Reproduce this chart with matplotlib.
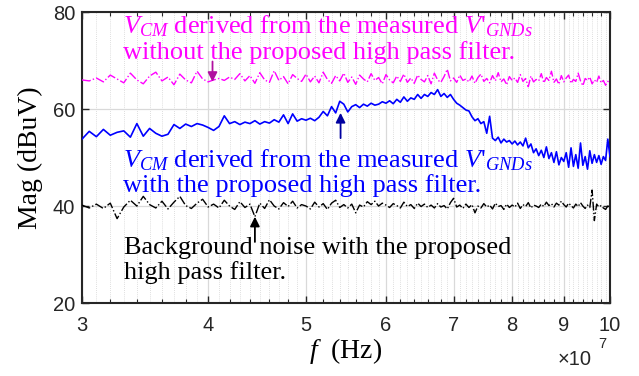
import numpy as np
import matplotlib
matplotlib.use("Agg")
import matplotlib.pyplot as plt
from matplotlib.ticker import FixedLocator, NullFormatter

plt.rcParams["font.family"] = ["Liberation Serif", "DejaVu Serif"]
plt.rcParams["mathtext.fontset"] = "custom"
plt.rcParams["mathtext.rm"] = "Liberation Serif"
plt.rcParams["mathtext.it"] = "Liberation Serif:italic"
plt.rcParams["mathtext.bf"] = "Liberation Serif:bold"

# Spectrum samples, 0.5 MHz apart from 30 MHz to 100 MHz
f_start, f_stop = 3e7, 1e8

vcm_no_filter = [
    66.0, 65.8, 66.4, 65.6, 67.0, 66.2, 65.4, 67.4, 66.0, 65.2,
    66.8, 67.6, 65.8, 66.6, 65.0, 67.2, 66.0, 65.4, 67.8, 66.2,
    65.6, 66.0, 66.3, 65.9, 66.6, 66.1, 67.3, 65.8, 66.9, 65.3,
    67.5, 66.0, 65.5, 67.9, 65.9, 66.7, 65.2, 67.1, 66.3, 65.7,
    67.2, 65.6, 66.8, 65.4, 67.6, 66.1, 65.3, 66.9, 65.8, 67.4,
    65.5, 66.6, 65.1, 67.0, 66.2, 65.6, 67.3, 65.9, 66.5, 65.2,
    67.1, 66.0, 65.4, 66.8, 65.7, 67.2, 65.5, 66.4, 65.3, 67.0,
    66.1, 65.6, 66.9, 65.2, 67.4, 66.0, 65.5, 66.7, 68.2, 65.8,
    66.4, 65.5, 67.0, 65.9, 66.2, 65.6, 66.8, 65.3, 66.5, 67.2,
    65.7, 66.3, 65.4, 66.9, 65.8, 67.5, 65.6, 66.2, 65.0, 66.7,
    65.9, 66.4, 65.5, 67.1, 65.7, 66.3, 64.6, 66.8, 65.6, 66.1,
    65.8, 67.3, 65.4, 66.5, 65.9, 67.8, 65.5, 66.2, 65.1, 66.9,
    65.6, 66.4, 67.0, 65.3, 66.1, 65.7, 67.4, 65.8, 64.8, 66.3,
    65.9, 66.6, 65.2, 66.0, 65.5, 66.8, 65.4, 65.9, 64.9, 65.7,
    65.6,
]

vcm_with_filter = [
    53.8, 55.4, 54.3, 55.8, 54.6, 55.2, 55.5, 54.2, 57.0, 54.4,
    56.0, 55.0, 54.4, 54.8, 56.8, 56.0, 56.9, 56.4, 57.0, 56.7,
    56.2, 55.6, 56.4, 58.6, 57.0, 57.4, 56.8, 57.3, 57.0, 57.6,
    56.9, 57.4, 57.1, 57.8, 57.3, 58.8, 57.0, 59.0, 57.5, 58.0,
    57.7, 58.1, 57.6, 58.3, 59.5, 58.6, 60.5, 59.2, 61.6, 61.0,
    59.4, 60.5, 60.9, 60.3, 61.0, 60.6, 61.2, 60.8, 61.0, 61.5,
    61.2, 61.7, 61.1, 62.0, 61.4, 62.5, 61.6, 62.3, 62.0, 63.0,
    62.2, 63.0, 62.6, 63.4, 63.0, 64.0, 62.6, 63.2, 62.4, 63.0,
    62.0, 61.2, 60.8, 60.3, 59.8, 59.6, 58.4, 57.6, 58.0, 57.0,
    57.4, 55.0, 58.5, 54.0, 53.5, 54.2, 53.0, 53.8, 53.2, 53.5,
    52.8, 53.4, 52.6, 53.2, 52.4, 54.0, 52.0, 52.8, 51.0, 51.8,
    50.4, 51.5, 50.0, 52.2, 49.8, 51.0, 49.0, 51.2, 48.5, 50.0,
    49.2, 51.0, 48.0, 52.0, 48.2, 50.6, 47.8, 53.0, 48.4, 50.2,
    47.6, 51.4, 48.8, 50.6, 49.0, 50.4, 48.6, 50.2, 49.4, 53.8,
    50.2,
]

background = [
    40.2, 39.6, 40.4, 39.5, 40.6, 37.4, 39.8, 41.2, 40.0, 42.0,
    40.3, 39.6, 41.0, 39.4, 40.8, 42.0, 40.1, 39.5, 40.6, 41.4,
    39.8, 40.4, 39.6, 41.2, 40.0, 39.3, 40.9, 39.7, 40.4, 37.8,
    40.6, 39.5, 41.3, 40.0, 39.4, 40.7, 39.9, 41.0, 39.6, 40.3,
    40.0, 39.4, 40.8, 39.8, 40.5, 39.3, 40.6, 41.2, 39.7, 40.3,
    39.6, 40.4, 38.6, 40.2, 39.8, 40.9, 40.3, 41.0, 40.0, 40.6,
    40.2, 39.7, 40.5, 40.1, 39.6, 40.8, 39.9, 40.3, 39.5, 40.6,
    39.9, 40.4, 39.7, 40.2, 39.6, 40.5, 39.8, 40.1, 39.4, 40.7,
    41.6, 39.8, 40.2, 39.5, 40.4, 39.7, 40.3, 38.6, 40.0, 39.6,
    40.5, 39.8, 40.2, 39.4, 40.6, 39.9, 40.1, 39.3, 40.4, 39.7,
    40.2, 39.8, 40.6, 39.5, 40.3, 39.9, 40.7, 39.6, 40.2, 40.0,
    39.7, 40.4, 39.9, 40.8, 40.1, 40.5, 39.8, 40.6, 40.2, 41.0,
    40.3, 39.8, 40.6, 40.1, 39.6, 40.4, 39.9, 40.7, 40.0, 39.5,
    40.2, 39.7, 43.3, 37.0, 40.4, 39.8, 40.1, 39.6, 39.3, 40.0,
    39.8,
]

x_ticks = [3e7, 4e7, 5e7, 6e7, 7e7, 8e7, 9e7, 1e8]
x_tick_labels = ["3", "4", "5", "6", "7", "8", "9", "10"]
y_ticks = [20, 40, 60, 80]

def freq_axis(values):
    return np.linspace(f_start, f_stop, len(values))

fig = plt.figure(figsize=(6.39, 3.76), dpi=100)
ax = fig.add_axes([0.1283, 0.194, 0.8263, 0.774])

ax.plot(freq_axis(vcm_no_filter), vcm_no_filter, color="#ff00ff",
        ls="-.", lw=1.0, zorder=3)
ax.plot(freq_axis(vcm_with_filter), vcm_with_filter, color="#0000ff",
        ls="-", lw=1.2, zorder=3)
ax.plot(freq_axis(background), background, color="black",
        ls="-.", lw=1.0, zorder=3)

ax.set_xscale("log")
ax.set_xlim(f_start, f_stop)
ax.set_ylim(20, 80)
ax.set_xticks(x_ticks, x_tick_labels)
ax.set_yticks(y_ticks)
ax.xaxis.set_minor_locator(FixedLocator(np.arange(3.2e7, 1e8, 2e6)))
ax.xaxis.set_minor_formatter(NullFormatter())

# light grid: solid at the labelled ticks, dotted at every 1 MHz step
ax.grid(True, which="major", color="#d9d9d9", lw=0.9, ls="-", zorder=0)
for fx in np.arange(3.1e7, 1e8, 1e6):
    ax.axvline(fx, color="#d4d4d4", lw=0.6, ls=(0, (1, 1.5)), zorder=0)

for side in ["left", "right", "top", "bottom"]:
    ax.spines[side].set_color("#262626")
    ax.spines[side].set_linewidth(1.5)
ax.tick_params(which="both", direction="in", top=True, right=True,
               color="#262626", labelfontfamily="Liberation Sans",
               labelsize=14.5, labelcolor="#262626")
ax.tick_params(which="major", length=5, width=1.0)
ax.tick_params(which="minor", length=3, width=0.8)
ax.tick_params(axis="x", pad=9)
ax.tick_params(axis="y", pad=5)

ax.set_xlabel(r"$f$  (Hz)", fontsize=20, labelpad=1)
ax.set_ylabel("Mag (dBuV)", fontsize=20, labelpad=7)

fig.text(0.872, 0.018, "\u00d710", fontsize=14.5, family="Liberation Sans",
         color="#262626", ha="left", va="bottom")
fig.text(0.937, 0.066, "7", fontsize=10.5, family="Liberation Sans",
         color="#262626", ha="left", va="bottom")

txt_kw = dict(fontsize=19, ha="left", va="center", linespacing=1.1)
gnds = "$V$'$_{GNDs}$"
ax.text(0.077, 0.909,
        "$V_{CM}$ derived from the measured " + gnds + "\n"
        "without the proposed high pass filter.",
        transform=ax.transAxes, color="#ff00ff", **txt_kw)
ax.text(0.077, 0.45,
        "$V_{CM}$ derived from the measured " + gnds + "\n"
        "with the proposed high pass filter.",
        transform=ax.transAxes, color="#0000ff", **txt_kw)
ax.text(0.079, 0.145,
        "Background noise with the proposed\nhigh pass filter.",
        transform=ax.transAxes, color="black", **txt_kw)

arrow_kw = dict(arrowstyle="-|>", mutation_scale=14, lw=1.3,
                shrinkA=0, shrinkB=0)
ax.annotate("", xy=(4.04e7, 65.6), xytext=(4.04e7, 69.8),
            arrowprops=dict(color="#b0109f", **arrow_kw))
ax.annotate("", xy=(5.41e7, 59.2), xytext=(5.41e7, 54.0),
            arrowprops=dict(color="#0000a0", **arrow_kw))
ax.annotate("", xy=(4.45e7, 37.8), xytext=(4.45e7, 32.6),
            arrowprops=dict(color="black", **arrow_kw))

fig.savefig("out.png", dpi=100)
